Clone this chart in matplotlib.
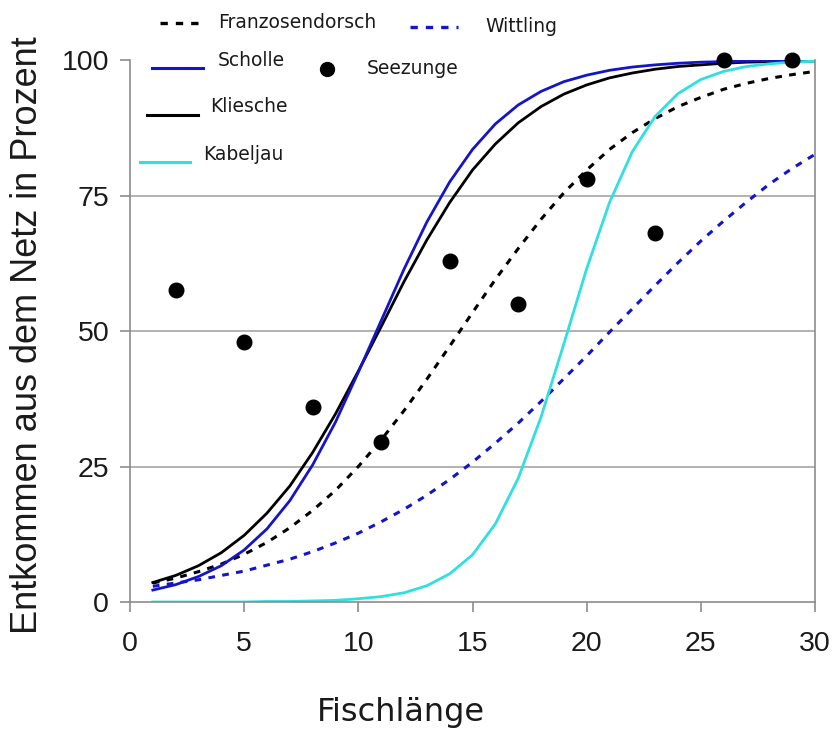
import numpy as np
import matplotlib
matplotlib.use("Agg")
import matplotlib.pyplot as plt
from matplotlib.lines import Line2D

# Fischlaenge in cm
laenge = list(range(1, 31))

# Entkommen aus dem Netz (%)
scholle = [2.2, 3.2, 4.7, 6.7, 9.6, 13.5, 18.7, 25.3, 33.2, 42.4,
           51.9, 61.4, 70.1, 77.5, 83.5, 88.2, 91.7, 94.2, 96.0, 97.2,
           98.1, 98.7, 99.1, 99.4, 99.6, 99.7, 99.8, 99.9, 99.9, 99.9]
kliesche = [3.6, 4.9, 6.7, 9.1, 12.3, 16.4, 21.4, 27.6, 34.7, 42.6,
            50.8, 59.1, 66.8, 73.7, 79.7, 84.5, 88.4, 91.4, 93.7, 95.4,
            96.7, 97.6, 98.3, 98.8, 99.1, 99.4, 99.6, 99.7, 99.8, 99.8]
franzosendorsch = [3.5, 4.4, 5.6, 7.0, 8.8, 11.0, 13.7, 16.9, 20.6, 25.0,
                   29.9, 35.3, 41.1, 47.2, 53.4, 59.5, 65.2, 70.6, 75.5, 79.7,
                   83.5, 86.6, 89.2, 91.4, 93.1, 94.6, 95.7, 96.6, 97.3, 97.9]
wittling = [2.9, 3.5, 4.1, 4.9, 5.7, 6.8, 7.9, 9.3, 10.9, 12.7,
            14.8, 17.1, 19.7, 22.6, 25.8, 29.3, 33.0, 37.0, 41.2, 45.4,
            49.8, 54.1, 58.4, 62.6, 66.6, 70.3, 73.8, 77.1, 80.0, 82.6]
kabeljau = [0.0, 0.0, 0.0, 0.0, 0.0, 0.1, 0.1, 0.2, 0.3, 0.6,
            1.0, 1.7, 3.0, 5.2, 8.7, 14.4, 22.8, 34.1, 47.6, 61.5,
            73.7, 83.1, 89.6, 93.8, 96.4, 97.9, 98.8, 99.3, 99.6, 99.8]

# Seezunge: single measurements
seezunge_x = [2, 5, 8, 11, 14, 17, 20, 23, 26, 29]
seezunge_y = [57.5, 48, 36, 29.5, 63, 55, 78, 68, 100, 100]

x_ticks = [0, 5, 10, 15, 20, 25, 30]
y_ticks = [0, 25, 50, 75, 100]

BLUE = "#1414c8"
CYAN = "#30e0e0"
GRID = "#a6a6a6"
DASH = (0, (2.2, 2.4))

W, H = 832, 729
fig = plt.figure(figsize=(W / 100, H / 100), dpi=100)
ax = fig.add_axes([130 / W, 1 - 602 / H, 685 / W, 542 / H])

ax.plot(laenge, franzosendorsch, color="black", lw=2.2, ls=DASH)
ax.plot(laenge, wittling, color=BLUE, lw=2.2, ls=DASH)
ax.plot(laenge, kliesche, color="black", lw=2)
ax.plot(laenge, scholle, color=BLUE, lw=2)
ax.plot(laenge, kabeljau, color=CYAN, lw=2)
ax.scatter(seezunge_x, seezunge_y, s=110, color="black", zorder=5, clip_on=False)

ax.set_xlim(0, 30)
ax.set_ylim(0, 100)
ax.set_xticks(x_ticks)
ax.set_yticks(y_ticks)
for y in y_ticks[1:-1]:
    ax.axhline(y, color=GRID, lw=1.2, zorder=0)

ax.spines["top"].set_visible(False)
for s in ["left", "bottom", "right"]:
    ax.spines[s].set_color("#8c8c8c")
    ax.spines[s].set_linewidth(1.2)
ax.tick_params(axis="both", direction="out", length=7, color="#8c8c8c",
               width=1.2, labelsize=20.5, pad=8)
ax.tick_params(axis="x", pad=14)
for lab in ax.get_xticklabels() + ax.get_yticklabels():
    lab.set_fontfamily("Liberation Sans")
    lab.set_color("#1a1a1a")

fig.text(401 / W, 1 - 712 / H, "Fischlänge", fontsize=23,
         family="DejaVu Sans", ha="center", va="center", color="#1a1a1a")
fig.text(28 / W, 1 - 335 / H, "Entkommen aus dem Netz in Prozent",
         fontsize=26, family="Liberation Sans", rotation=90,
         ha="center", va="center", color="#1a1a1a")

# hand placed legend, as in the original
def key(x0, x1, y, **kw):
    fig.add_artist(Line2D([x0 / W, x1 / W], [1 - y / H, 1 - y / H], **kw))

def label(x, y, txt):
    fig.text(x / W, 1 - y / H, txt, fontsize=13.5, family="DejaVu Sans",
             ha="left", va="center", color="#1a1a1a")

key(160, 206, 23, color="black", lw=2.4, ls=DASH)
label(218, 22, "Franzosendorsch")
key(410, 458, 27, color=BLUE, lw=2.4, ls=DASH)
label(485, 27, "Wittling")
key(152, 203, 68, color=BLUE, lw=2.2)
label(218, 61, "Scholle")
fig.add_artist(Line2D([327 / W], [1 - 69 / H], marker="o", ms=10,
                      color="black", ls="none"))
label(367, 69, "Seezunge")
key(147, 198, 115, color="black", lw=2.2)
label(210, 106, "Kliesche")
key(140, 190, 162, color=CYAN, lw=2.2)
label(203, 154, "Kabeljau")

fig.savefig("out.png", dpi=100)
